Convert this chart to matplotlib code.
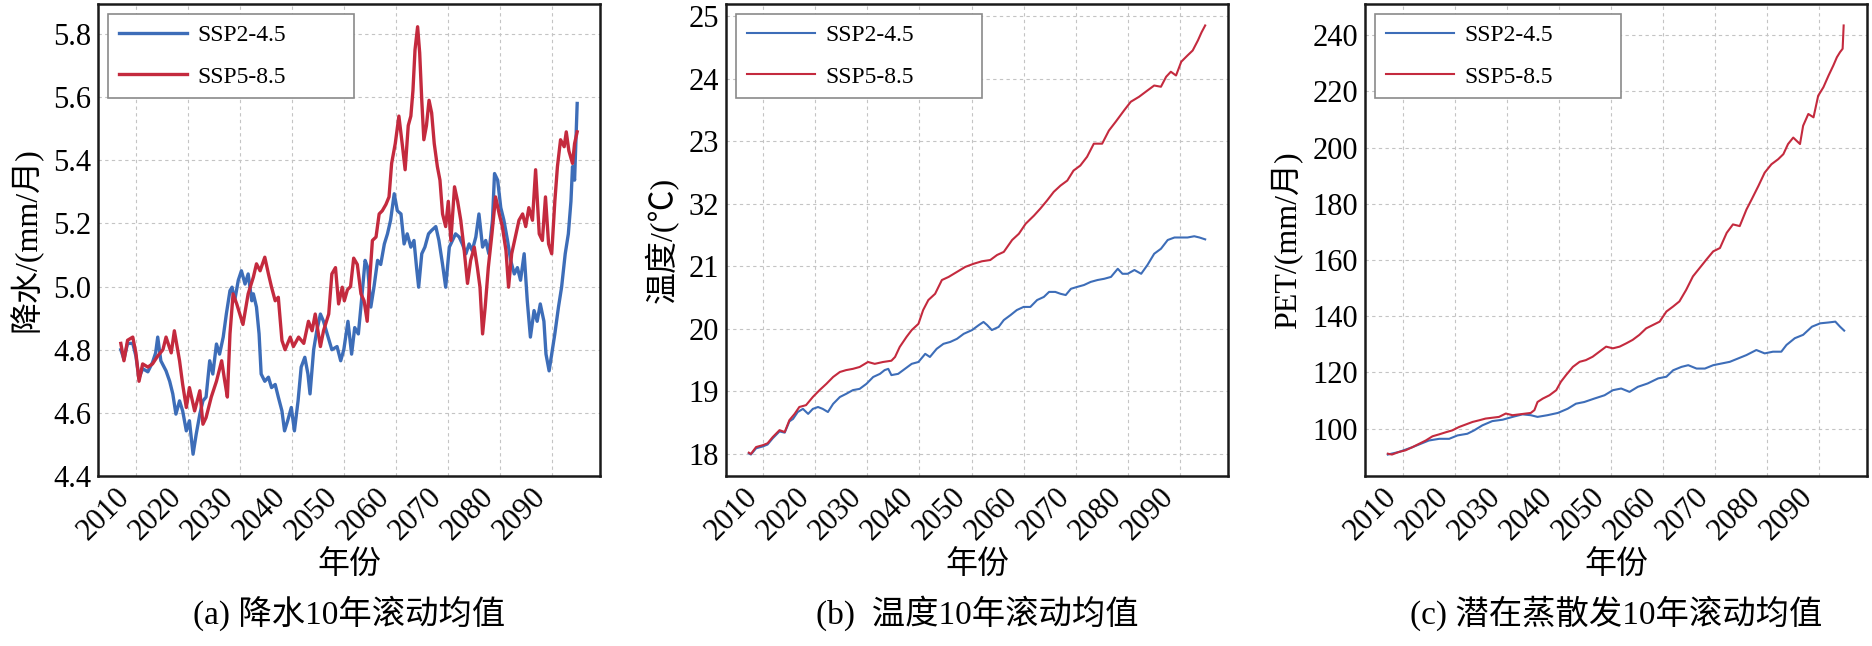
import numpy as np
import matplotlib
matplotlib.use('Agg')
import matplotlib.pyplot as plt

plt.rcParams['font.serif'] = ['Liberation Serif', 'Nimbus Roman', 'Times New Roman', 'DejaVu Serif']
plt.rcParams['font.family'] = ['serif', 'Noto Sans CJK SC']
plt.rcParams['axes.unicode_minus'] = False

# ---- data (year, 10-year rolling mean) ----
pr_ssp245 = [
    (2007.1, 4.80), (2007.7, 4.77), (2008.4, 4.82), (2009.4, 4.82), (2010.0, 4.78), (2010.6, 4.71),
    (2011.3, 4.74), (2012.3, 4.73), (2013.2, 4.76), (2013.8, 4.79), (2014.2, 4.84), (2014.8, 4.765),
    (2015.8, 4.733), (2016.5, 4.70), (2017.1, 4.66), (2017.7, 4.596), (2018.4, 4.638), (2019.0, 4.606),
    (2019.7, 4.543), (2020.3, 4.575), (2021.0, 4.469), (2021.6, 4.532), (2022.3, 4.596), (2022.9, 4.638),
    (2023.5, 4.65), (2024.2, 4.765), (2024.8, 4.723), (2025.5, 4.818), (2026.1, 4.786), (2026.8, 4.84),
    (2027.4, 4.913), (2028.1, 4.987), (2028.5, 4.998), (2029.0, 4.955), (2029.7, 5.02), (2030.3, 5.05),
    (2031.0, 5.008), (2031.6, 5.04), (2032.3, 4.955), (2032.6, 4.977), (2033.2, 4.935), (2033.7, 4.85),
    (2034.1, 4.723), (2034.8, 4.70), (2035.5, 4.713), (2036.1, 4.68), (2036.8, 4.69), (2037.4, 4.65),
    (2038.1, 4.606), (2038.6, 4.543), (2039.2, 4.575), (2039.9, 4.617), (2040.5, 4.543), (2041.2, 4.638),
    (2041.8, 4.745), (2042.5, 4.776), (2043.1, 4.723), (2043.5, 4.66), (2044.2, 4.80), (2044.8, 4.86),
    (2045.5, 4.913), (2046.1, 4.89), (2046.8, 4.85), (2047.7, 4.80), (2048.7, 4.81), (2049.4, 4.765),
    (2050.0, 4.80), (2050.8, 4.89), (2051.5, 4.786), (2052.1, 4.87), (2052.8, 4.85), (2053.4, 4.955),
    (2054.1, 5.083), (2054.6, 5.06), (2055.2, 4.935), (2055.8, 4.998), (2056.5, 5.083), (2057.1, 5.07),
    (2057.8, 5.135), (2058.4, 5.167), (2059.0, 5.21), (2059.7, 5.294), (2060.3, 5.24), (2061.0, 5.23),
    (2061.6, 5.135), (2062.2, 5.167), (2062.9, 5.125), (2063.5, 5.146), (2064.0, 5.06), (2064.4, 4.998),
    (2065.0, 5.104), (2065.6, 5.125), (2066.3, 5.167), (2066.9, 5.178), (2067.7, 5.19), (2068.3, 5.146),
    (2069.0, 5.07), (2069.6, 4.998), (2070.3, 5.125), (2070.9, 5.146), (2071.5, 5.167), (2072.2, 5.157),
    (2072.8, 5.135), (2073.5, 5.104), (2074.1, 5.135), (2074.7, 5.114), (2075.4, 5.157), (2076.0, 5.23),
    (2076.7, 5.125), (2077.3, 5.146), (2077.9, 5.104), (2078.6, 5.21), (2079.0, 5.358), (2079.6, 5.337),
    (2080.2, 5.25), (2080.8, 5.21), (2081.5, 5.146), (2082.1, 5.083), (2082.8, 5.04), (2083.4, 5.06),
    (2084.0, 5.02), (2084.7, 5.104), (2085.3, 4.955), (2085.9, 4.84), (2086.6, 4.924), (2087.2, 4.89),
    (2087.8, 4.945), (2088.5, 4.89), (2088.9, 4.786), (2089.5, 4.733), (2090.0, 4.786), (2090.6, 4.85),
    (2091.3, 4.935), (2091.9, 4.998), (2092.6, 5.104), (2093.2, 5.167), (2093.7, 5.27), (2094.0, 5.38),
    (2094.4, 5.337), (2094.9, 5.58),
]
pr_ssp585 = [
    (2007.1, 4.82), (2007.7, 4.765), (2008.4, 4.83), (2009.4, 4.84), (2010.0, 4.79), (2010.6, 4.70),
    (2011.3, 4.755), (2012.3, 4.745), (2013.2, 4.755), (2014.2, 4.78), (2015.2, 4.80), (2015.8, 4.84),
    (2016.8, 4.79), (2017.4, 4.86), (2018.4, 4.765), (2019.0, 4.69), (2019.7, 4.617), (2020.3, 4.68),
    (2021.3, 4.606), (2022.3, 4.67), (2022.9, 4.564), (2023.5, 4.585), (2024.5, 4.65), (2025.5, 4.70),
    (2026.5, 4.765), (2027.1, 4.70), (2027.6, 4.65), (2028.1, 4.85), (2028.7, 4.977), (2029.4, 4.945),
    (2030.0, 4.913), (2030.6, 4.88), (2031.6, 4.977), (2032.6, 5.03), (2033.2, 5.072), (2033.9, 5.05),
    (2034.8, 5.093), (2035.5, 5.04), (2036.1, 4.998), (2036.8, 4.955), (2037.4, 4.966), (2038.1, 4.829),
    (2038.7, 4.80), (2039.7, 4.84), (2040.3, 4.81), (2041.3, 4.84), (2042.3, 4.82), (2043.2, 4.89),
    (2043.9, 4.86), (2044.5, 4.913), (2045.5, 4.81), (2046.1, 4.86), (2047.1, 4.913), (2047.7, 5.04),
    (2048.4, 5.06), (2049.0, 4.945), (2049.7, 4.998), (2050.1, 4.955), (2050.7, 4.99), (2051.3, 5.0),
    (2051.9, 5.09), (2052.6, 5.07), (2053.3, 4.977), (2053.9, 4.955), (2054.5, 4.89), (2054.9, 5.0),
    (2055.5, 5.146), (2056.2, 5.157), (2056.8, 5.23), (2057.4, 5.24), (2058.1, 5.26), (2058.7, 5.284),
    (2059.2, 5.39), (2059.9, 5.453), (2060.6, 5.54), (2061.3, 5.443), (2061.8, 5.37), (2062.4, 5.51),
    (2062.9, 5.54), (2063.3, 5.62), (2063.7, 5.75), (2064.2, 5.823), (2064.6, 5.74), (2065.0, 5.59),
    (2065.4, 5.465), (2065.9, 5.51), (2066.4, 5.59), (2066.9, 5.55), (2067.4, 5.453), (2068.0, 5.38),
    (2068.5, 5.337), (2069.0, 5.23), (2069.6, 5.19), (2070.1, 5.27), (2070.6, 5.146), (2071.3, 5.316),
    (2071.9, 5.27), (2072.5, 5.21), (2073.1, 5.125), (2073.8, 5.01), (2074.4, 5.083), (2075.1, 5.125),
    (2075.7, 5.06), (2076.2, 4.998), (2076.7, 4.85), (2077.2, 4.935), (2077.8, 5.06), (2078.5, 5.167),
    (2079.2, 5.284), (2079.9, 5.23), (2080.5, 5.19), (2081.2, 5.114), (2081.7, 4.998), (2082.3, 5.104),
    (2083.0, 5.157), (2083.7, 5.21), (2084.4, 5.23), (2085.0, 5.19), (2085.6, 5.25), (2086.3, 5.21),
    (2086.9, 5.37), (2087.6, 5.167), (2088.2, 5.146), (2088.8, 5.284), (2089.4, 5.135), (2090.0, 5.104),
    (2090.6, 5.27), (2091.1, 5.38), (2091.7, 5.465), (2092.4, 5.443), (2092.8, 5.49), (2093.3, 5.43),
    (2094.0, 5.39), (2094.4, 5.453), (2094.9, 5.49),
]

tas_ssp245 = [
    (2007.2, 18.01), (2007.6, 17.99), (2008.6, 18.09), (2009.9, 18.12), (2010.8, 18.15), (2011.8, 18.25),
    (2013.1, 18.36), (2014.1, 18.34), (2015.0, 18.52), (2015.7, 18.56), (2016.6, 18.67), (2017.6, 18.72),
    (2018.6, 18.64), (2019.5, 18.72), (2020.5, 18.75), (2021.4, 18.72), (2022.4, 18.67), (2023.4, 18.80),
    (2024.7, 18.91), (2025.9, 18.96), (2027.2, 19.02), (2028.5, 19.04), (2029.8, 19.12), (2031.1, 19.23),
    (2032.4, 19.28), (2033.3, 19.34), (2034.0, 19.36), (2034.6, 19.26), (2035.9, 19.28), (2037.2, 19.36),
    (2038.5, 19.44), (2039.8, 19.47), (2041.1, 19.60), (2042.0, 19.55), (2043.3, 19.68), (2044.6, 19.76),
    (2045.9, 19.79), (2047.2, 19.84), (2048.5, 19.92), (2050.1, 19.98), (2051.4, 20.06), (2052.3, 20.11),
    (2053.0, 20.06), (2053.9, 19.98), (2055.2, 20.03), (2056.2, 20.14), (2057.5, 20.22), (2058.7, 20.30),
    (2060.0, 20.35), (2061.3, 20.35), (2062.6, 20.46), (2063.9, 20.51), (2064.9, 20.59), (2066.1, 20.59),
    (2067.1, 20.56), (2068.1, 20.54), (2069.1, 20.64), (2070.3, 20.67), (2071.6, 20.70), (2072.9, 20.75),
    (2074.2, 20.78), (2075.5, 20.80), (2076.8, 20.83), (2078.1, 20.96), (2079.0, 20.88), (2080.0, 20.88),
    (2081.3, 20.94), (2082.6, 20.88), (2083.8, 21.02), (2085.1, 21.20), (2086.4, 21.28), (2087.7, 21.42),
    (2089.0, 21.46), (2090.3, 21.46), (2091.5, 21.46), (2092.8, 21.48), (2093.8, 21.46), (2094.9, 21.43),
]
tas_ssp585 = [
    (2007.2, 18.02), (2007.6, 18.0), (2008.6, 18.11), (2009.9, 18.14), (2010.8, 18.17), (2011.8, 18.27),
    (2013.1, 18.38), (2014.1, 18.35), (2015.0, 18.54), (2016.0, 18.64), (2016.9, 18.75), (2018.2, 18.78),
    (2019.5, 18.91), (2020.8, 19.02), (2022.1, 19.12), (2023.4, 19.23), (2024.7, 19.31), (2025.9, 19.34),
    (2027.2, 19.36), (2028.5, 19.39), (2030.1, 19.47), (2031.4, 19.44), (2033.0, 19.47), (2034.6, 19.49),
    (2035.3, 19.55), (2036.2, 19.71), (2037.5, 19.87), (2038.5, 19.98), (2039.8, 20.08), (2040.7, 20.30),
    (2041.7, 20.46), (2043.0, 20.56), (2044.3, 20.78), (2045.6, 20.83), (2047.2, 20.91), (2048.8, 20.99),
    (2050.4, 21.04), (2052.0, 21.08), (2053.6, 21.10), (2054.9, 21.18), (2056.2, 21.23), (2057.8, 21.42),
    (2059.1, 21.52), (2060.4, 21.68), (2062.0, 21.81), (2063.2, 21.92), (2064.5, 22.05), (2065.8, 22.19),
    (2067.1, 22.29), (2068.4, 22.37), (2069.6, 22.53), (2070.9, 22.61), (2072.2, 22.75), (2073.5, 22.96),
    (2075.1, 22.96), (2076.4, 23.17), (2077.7, 23.31), (2079.3, 23.49), (2080.6, 23.63), (2082.2, 23.71),
    (2083.8, 23.81), (2085.1, 23.89), (2086.4, 23.87), (2087.4, 24.03), (2088.3, 24.11), (2089.3, 24.05),
    (2090.3, 24.27), (2091.5, 24.37), (2092.5, 24.45), (2093.5, 24.61), (2094.2, 24.74), (2094.9, 24.85),
]

pet_ssp245 = [
    (2007.1, 90.8), (2009.2, 91.7), (2011.8, 93.4), (2013.4, 94.6), (2015.0, 95.8), (2017.0, 96.4),
    (2018.9, 96.4), (2020.5, 97.6), (2022.4, 98.2), (2023.7, 99.4), (2025.3, 101.2), (2027.2, 102.7),
    (2029.2, 103.2), (2031.1, 104.2), (2033.0, 105.1), (2034.6, 104.8), (2035.9, 104.2), (2037.8, 104.8),
    (2039.8, 105.6), (2041.7, 107.1), (2043.3, 108.9), (2044.9, 109.5), (2046.8, 110.7), (2048.8, 111.9),
    (2050.4, 113.7), (2052.0, 114.3), (2053.6, 113.1), (2055.2, 114.9), (2057.1, 116.1), (2059.1, 117.9),
    (2060.7, 118.5), (2062.0, 120.8), (2063.6, 122.0), (2064.9, 122.6), (2066.5, 121.4), (2068.1, 121.4),
    (2069.7, 122.6), (2071.3, 123.2), (2072.9, 123.8), (2074.5, 125.0), (2076.1, 126.2), (2078.0, 128.0),
    (2079.6, 126.8), (2081.2, 127.4), (2082.8, 127.4), (2083.8, 129.8), (2085.4, 132.2), (2087.0, 133.4),
    (2088.7, 136.3), (2090.3, 137.5), (2091.9, 137.8), (2093.2, 138.1), (2094.1, 136.3), (2094.9, 134.9),
]
pet_ssp585 = [
    (2007.1, 91.1), (2007.9, 90.8), (2009.2, 91.7), (2010.5, 92.3), (2011.8, 93.4), (2013.1, 94.6),
    (2014.4, 95.8), (2015.7, 97.3), (2017.0, 98.0), (2018.2, 98.7), (2019.5, 99.4), (2020.8, 100.6),
    (2022.1, 101.5), (2023.4, 102.4), (2024.7, 103.0), (2025.9, 103.6), (2027.2, 103.9), (2028.5, 104.2),
    (2029.8, 105.4), (2031.1, 104.8), (2032.4, 105.1), (2033.7, 105.4), (2034.6, 105.6), (2035.3, 106.6),
    (2035.9, 109.5), (2036.9, 110.7), (2038.2, 111.9), (2039.5, 113.7), (2040.4, 116.7), (2041.4, 119.1),
    (2042.7, 122.0), (2044.0, 123.8), (2045.2, 124.4), (2046.5, 125.6), (2047.8, 127.4), (2049.1, 129.2),
    (2050.4, 128.6), (2051.7, 129.2), (2053.0, 130.4), (2054.2, 131.6), (2055.5, 133.4), (2056.8, 135.7),
    (2058.1, 136.9), (2059.4, 138.1), (2060.7, 141.7), (2062.0, 143.5), (2063.2, 145.3), (2064.5, 149.4),
    (2065.8, 154.2), (2067.1, 157.2), (2068.4, 160.2), (2069.7, 163.1), (2071.0, 164.3), (2072.3, 169.7),
    (2073.5, 172.7), (2074.8, 172.1), (2076.1, 178.0), (2077.1, 181.6), (2078.4, 186.4), (2079.6, 191.1),
    (2080.9, 194.1), (2082.2, 195.9), (2083.2, 197.7), (2084.1, 201.3), (2085.1, 203.6), (2086.4, 201.3),
    (2087.0, 207.8), (2088.0, 212.0), (2089.0, 210.8), (2089.9, 218.5), (2090.9, 221.5), (2091.9, 225.7),
    (2092.8, 229.2), (2093.5, 232.2), (2094.1, 234.0), (2094.6, 235.2), (2094.8, 243.5),
]

scenarios = ['SSP2-4.5', 'SSP5-8.5']
year_ticks = [2010, 2020, 2030, 2040, 2050, 2060, 2070, 2080, 2090]
pr_ticks = [4.4, 4.6, 4.8, 5.0, 5.2, 5.4, 5.6, 5.8]
tas_ticks = [18, 19, 20, 21, 22, 23, 24, 25]
tas_tick_labels = ['18', '19', '20', '21', '32', '23', '24', '25']
pet_ticks = [100, 120, 140, 160, 180, 200, 220, 240]
ylabels = ['降水/(mm/月)', '温度/(℃)', 'PET/(mm/月)']
captions = ['(a) 降水10年滚动均值', '(b)  温度10年滚动均值', '(c) 潜在蒸散发10年滚动均值']

colors = ['#3d6db8', '#c42a3e']
panels = [(pr_ssp245, pr_ssp585), (tas_ssp245, tas_ssp585), (pet_ssp245, pet_ssp585)]
widths = [2.4, 1.5, 1.5]

fig = plt.figure(figsize=(18.72, 6.46), dpi=100)
lefts = [98, 726, 1365]
axes = []
for i in range(3):
    ax = fig.add_axes([lefts[i] / 1872, 1 - 476 / 646, 502 / 1872, 472 / 646])
    axes.append(ax)
    for series, name, c in zip(panels[i], scenarios, colors):
        arr = np.array(series)
        ax.plot(arr[:, 0], arr[:, 1], color=c, lw=widths[i], label=name)
    ax.set_xticks(year_ticks)
    ax.set_xticklabels([str(y) for y in year_ticks], rotation=45, ha='right')
    ax.grid(True, linestyle=(0, (3, 3)), color='#c4c4c4', linewidth=0.8)
    ax.set_axisbelow(True)
    ax.tick_params(axis='both', length=0, labelsize=22, pad=5)
    for sp in ax.spines.values():
        sp.set_linewidth(1.8)
        sp.set_color('#1a1a1a')
    ax.set_ylabel(ylabels[i], fontsize=23, labelpad=7)
    ax.set_xlabel('年份', fontsize=23)
    ax.xaxis.set_label_coords(0.5, -0.19)
    ax.xaxis.label.set_va('center')
    leg = ax.legend(loc='upper left', bbox_to_anchor=(0.02, 0.5, 0.49, 0.479), mode='expand',
                    borderaxespad=0, fontsize=17, handlelength=2.9, handletextpad=0.45,
                    labelspacing=0.85, borderpad=0.45, fancybox=False, framealpha=1)
    leg.get_frame().set_edgecolor('#8a8a8a')
    leg.get_frame().set_linewidth(1.2)
    fig.text((lefts[i] + 251) / 1872, 1 - 613 / 646, captions[i], ha='center', va='center', fontsize=24)

axes[0].set_yticks(pr_ticks)
axes[0].set_ylim(4.4, 5.895)
axes[1].set_yticks(tas_ticks)
axes[1].set_yticklabels(tas_tick_labels)
axes[2].set_yticks(pet_ticks)

fig.savefig('out.png', dpi=100)
